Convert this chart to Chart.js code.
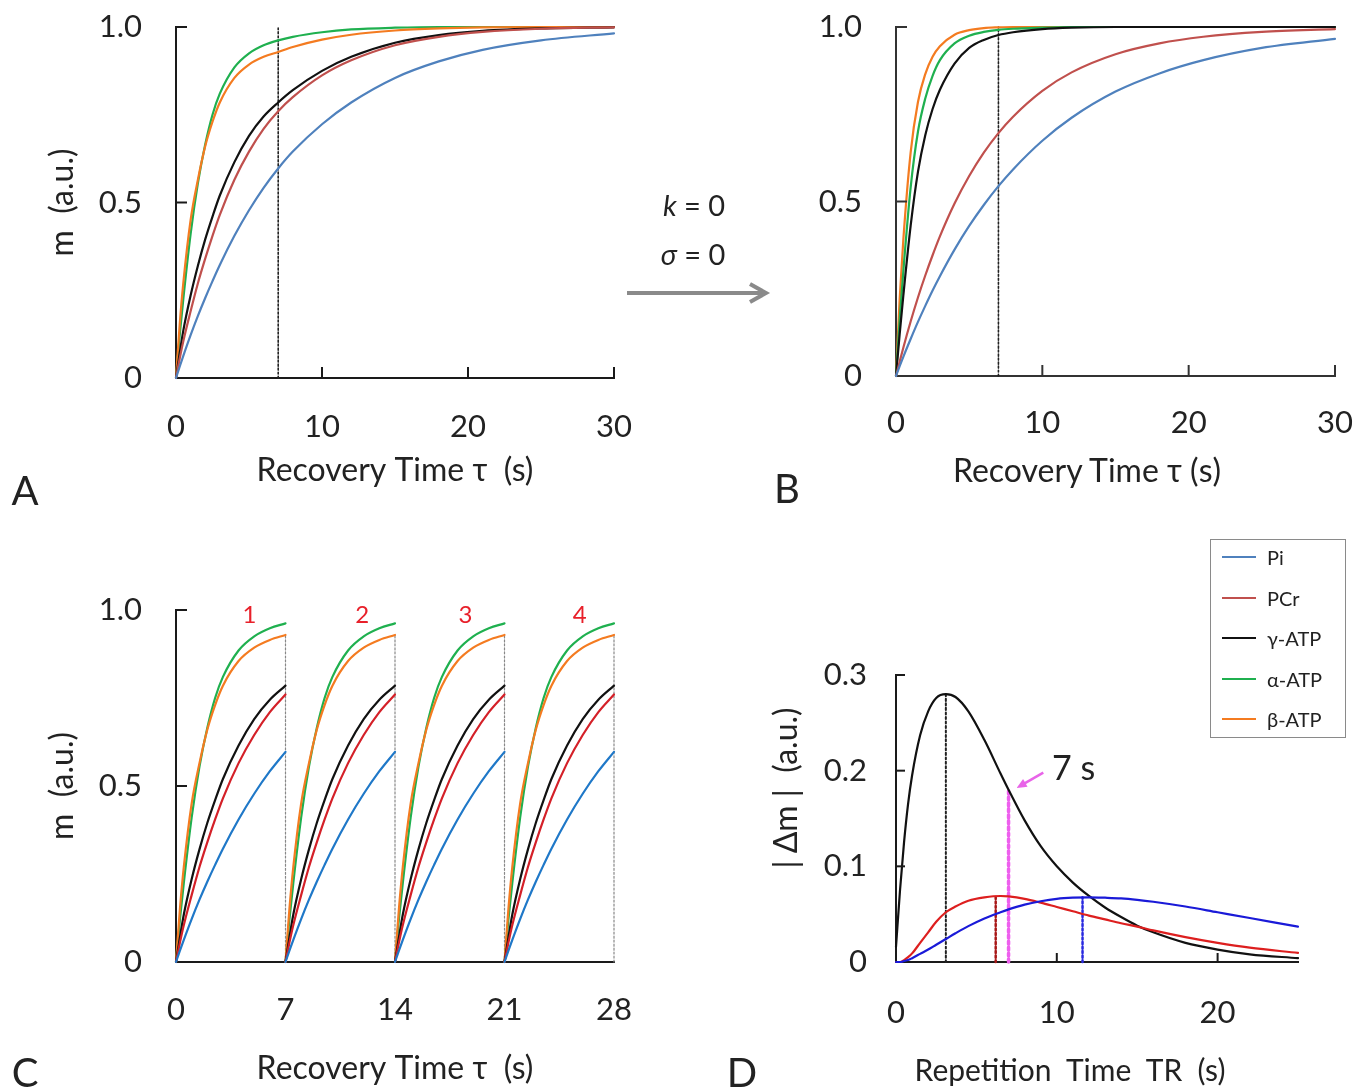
<!DOCTYPE html>
<html><head><meta charset="utf-8">
<script src="https://cdn.jsdelivr.net/npm/chart.js@4.4.1/dist/chart.umd.min.js"></script>
<style>
html,body{margin:0;padding:0;background:#fff;}
#page{position:relative;width:1368px;height:1092px;overflow:hidden;font-family:Lato,"Open Sans",sans-serif;color:#222;}
canvas{position:absolute;}
.t{position:absolute;white-space:pre;transform:translate(-50%,-50%);line-height:1;z-index:5;}
#legend{position:absolute;left:1210px;top:539px;width:136px;height:199px;border:1.5px solid #8a8a8a;box-sizing:border-box;background:#fff;z-index:5;}
.lr{position:absolute;left:0;height:26px;width:130px;}
.lr span.l{position:absolute;left:11px;top:12px;width:34px;height:0;border-top:2.4px solid;}
.lr span.n{position:absolute;left:56px;top:0;font-size:20px;line-height:26px;color:#222;}
</style></head><body><div id="page">
<canvas id="cA" width="650" height="500" style="left:0;top:0"></canvas>
<canvas id="cB" width="648" height="500" style="left:720px;top:0"></canvas>
<canvas id="cC" width="650" height="552" style="left:0;top:540px"></canvas>
<canvas id="cD" width="648" height="552" style="left:720px;top:540px"></canvas>

<svg style="position:absolute;left:0;top:0;z-index:4" width="1368" height="1092">
  <line x1="627" y1="293" x2="764" y2="293" stroke="#8a8a8a" stroke-width="4"/>
  <polyline points="750,284 766,293 750,302" fill="none" stroke="#8a8a8a" stroke-width="4" stroke-linejoin="miter"/>
</svg>

<div class="t" style="left:25px;top:490px;font-size:40px;">A</div>
<div class="t" style="left:787px;top:488px;font-size:40px;">B</div>
<div class="t" style="left:25px;top:1072px;font-size:40px;">C</div>
<div class="t" style="left:742px;top:1072px;font-size:40px;">D</div>
<div class="t" style="left:694px;top:204px;font-size:29px;"><i>k</i> = 0</div>
<div class="t" style="left:693px;top:253px;font-size:29px;"><i>σ</i> = 0</div>
<div class="t" style="left:1087px;top:470px;font-size:32px;">Recovery Time τ (s)</div>
<div class="t" style="left:1070px;top:1069px;font-size:30px;">Repetition  Time  TR  (s)</div>
<div class="t" style="left:785px;top:788px;font-size:32px;transform:translate(-50%,-50%) rotate(-90deg);">| Δm |  (a.u.)</div>

<div id="legend"></div>
</div>
<script>
// ================= DATA =================
// Panel A: recovery curves with exchange (k, sigma != 0)
const tA = [0,0.25,0.5,1,1.5,2,2.5,3,4,5,6,7,8,10,12,15,18,21,25,30];
const A_Pi   = [0,0.032,0.063,0.122,0.177,0.228,0.276,0.322,0.405,0.478,0.542,0.597,0.645,0.723,0.785,0.855,0.902,0.935,0.962,0.982];
const A_PCr  = [0,0.055,0.105,0.19,0.27,0.34,0.405,0.465,0.565,0.645,0.71,0.76,0.80,0.862,0.905,0.948,0.972,0.986,0.995,0.999];
const A_gATP = [0,0.07,0.135,0.235,0.32,0.395,0.46,0.52,0.615,0.69,0.745,0.785,0.82,0.875,0.915,0.955,0.977,0.989,0.996,0.999];
const A_aATP = [0,0.12,0.225,0.41,0.555,0.665,0.75,0.81,0.885,0.925,0.948,0.962,0.972,0.985,0.993,0.998,1,1,1,1];
const A_bATP = [0,0.15,0.27,0.45,0.565,0.66,0.73,0.785,0.855,0.893,0.915,0.929,0.943,0.964,0.978,0.99,0.996,0.999,1,1];

// Panel B: recovery curves with k = 0, sigma = 0
const tB = [0,0.25,0.5,1,1.5,2,2.5,3,4,5,6,7,8,10,12,15,18,21,25,30];
const B_Pi   = [0,0.028,0.055,0.106,0.155,0.201,0.245,0.286,0.362,0.43,0.49,0.544,0.592,0.674,0.74,0.815,0.867,0.905,0.94,0.966];
const B_PCr  = [0,0.041,0.081,0.156,0.225,0.288,0.346,0.4,0.494,0.573,0.64,0.696,0.743,0.817,0.87,0.922,0.953,0.972,0.986,0.994];
const B_gATP = [0,0.12,0.23,0.43,0.585,0.69,0.765,0.82,0.895,0.94,0.963,0.977,0.985,0.994,0.998,1,1,1,1,1];
const B_aATP = [0,0.16,0.3,0.54,0.7,0.795,0.86,0.905,0.953,0.975,0.986,0.992,0.995,0.998,1,1,1,1,1,1];
const B_bATP = [0,0.22,0.39,0.64,0.785,0.865,0.915,0.945,0.978,0.991,0.997,0.999,1,1,1,1,1,1,1,1];

// Panel C: one 7 s recovery cycle (repeated 4 times in the panel)
const tC = [0,0.25,0.5,1,1.5,2,2.5,3,4,5,6,7];
const C_Pi   = [0,0.032,0.063,0.122,0.177,0.228,0.276,0.322,0.405,0.478,0.542,0.597];
const C_PCr  = [0,0.055,0.105,0.19,0.27,0.34,0.405,0.465,0.565,0.645,0.71,0.76];
const C_gATP = [0,0.07,0.135,0.235,0.32,0.395,0.46,0.52,0.615,0.69,0.745,0.785];
const C_aATP = [0,0.12,0.225,0.41,0.555,0.665,0.75,0.81,0.885,0.925,0.948,0.962];
const C_bATP = [0,0.15,0.27,0.45,0.565,0.66,0.73,0.785,0.855,0.893,0.915,0.929];
const C_cycleLen = 7;
const C_cycles = ['1','2','3','4'];
const C_cycleLabelX = [4.7,11.9,18.5,25.8];
const C_dotTop = 0.93;

// Panel D: |delta m| vs repetition time TR
const tD = [0,0.25,0.5,0.75,1,1.5,2,2.5,3.1,3.7,4.5,5.5,6.5,7,8,9,10,11,12,13,14,15,16,18,20,22,25];
const D_Pi   = [0,0,0.001,0.002,0.004,0.0085,0.013,0.018,0.024,0.03,0.0375,0.0455,0.052,0.055,0.06,0.0635,0.066,0.0672,0.0676,0.0672,0.0665,0.065,0.063,0.058,0.052,0.046,0.037];
const D_PCr  = [0,0,0.002,0.005,0.009,0.02,0.031,0.042,0.052,0.058,0.064,0.0675,0.069,0.0685,0.066,0.062,0.0575,0.053,0.0485,0.0445,0.0405,0.037,0.033,0.026,0.02,0.015,0.0095];
const D_gATP = [0.016,0.075,0.125,0.165,0.195,0.237,0.262,0.276,0.28,0.277,0.262,0.232,0.197,0.18,0.148,0.121,0.1,0.083,0.069,0.057,0.047,0.038,0.031,0.02,0.013,0.008,0.004];
const D_markX = [3.1,6.2,7,11.6];
const D_markY = [0.28,0.069,0.18,0.0676];

// ticks
const AB_xTicks = [0,10,20,30], AB_xLabels = ['0','10','20','30'];
const ABC_yTicks = [0,0.5,1], ABC_yLabels = ['0','0.5','1.0'];
const C_xTicks = [0,7,14,21,28], C_xLabels = ['0','7','14','21','28'];
const D_xTicks = [0,10,20], D_xLabels = ['0','10','20'];
const D_yTicks = [0,0.1,0.2,0.3], D_yLabels = ['0','0.1','0.2','0.3'];

const seriesNames = ['Pi','PCr','γ-ATP','α-ATP','β-ATP'];
const colAB = ['#4f81bd','#c0504d','#111111','#1fb04f','#f47b20'];
const colC  = ['#1f78c8','#d42028','#111111','#1fb04f','#f47b20'];
const colD  = ['#1a1ad8','#dd1f1f','#111111'];

// ================= CHART HELPERS =================
const FONT = 'Lato, "Open Sans", sans-serif';
Chart.defaults.font.family = FONT;
Chart.defaults.color = '#222';

const inwardTicks = {
  id:'inwardTicks',
  afterDraw(chart, args, o){
    const {ctx, chartArea:a, scales} = chart;
    ctx.save(); ctx.strokeStyle=o.color; ctx.lineWidth=o.width;
    (o.x||[]).forEach(v=>{const p=scales.x.getPixelForValue(v);ctx.beginPath();ctx.moveTo(p,a.bottom);ctx.lineTo(p,a.bottom-o.len);ctx.stroke();});
    (o.y||[]).forEach(v=>{const p=scales.y.getPixelForValue(v);ctx.beginPath();ctx.moveTo(a.left,p);ctx.lineTo(a.left+o.len,p);ctx.stroke();});
    ctx.restore();
  }
};
const notes = {
  id:'notes',
  afterDatasetsDraw(chart, args, o){
    const {ctx, scales:{x,y}} = chart;
    ctx.save();
    (o.arrows||[]).forEach(a=>{
      const x1=x.getPixelForValue(a.from[0]), y1=y.getPixelForValue(a.from[1]);
      const x2=x.getPixelForValue(a.to[0]), y2=y.getPixelForValue(a.to[1]);
      const ang=Math.atan2(y2-y1,x2-x1), h=a.head;
      ctx.strokeStyle=a.color; ctx.fillStyle=a.color; ctx.lineWidth=a.width;
      ctx.beginPath(); ctx.moveTo(x1,y1); ctx.lineTo(x2-Math.cos(ang)*h*0.7,y2-Math.sin(ang)*h*0.7); ctx.stroke();
      ctx.beginPath(); ctx.moveTo(x2,y2);
      ctx.lineTo(x2-h*Math.cos(ang-0.42),y2-h*Math.sin(ang-0.42));
      ctx.lineTo(x2-h*Math.cos(ang+0.42),y2-h*Math.sin(ang+0.42));
      ctx.closePath(); ctx.fill();
    });
    (o.texts||[]).forEach(t=>{
      ctx.font = `${t.size}px ${FONT}`; ctx.fillStyle=t.color; ctx.textAlign=t.align||'center'; ctx.textBaseline='middle';
      ctx.fillText(t.text, x.getPixelForValue(t.at[0]), y.getPixelForValue(t.at[1]));
    });
    ctx.restore();
  }
};

function curve(xs, ys, color, label){
  return {label, data: xs.map((v,i)=>({x:v,y:ys[i]})), borderColor:color, borderWidth:2.2, clip:false, order:1};
}
function vline(xv, ytop, color, width, dash){
  return {data:[{x:xv,y:0},{x:xv,y:ytop}], borderColor:color, borderWidth:width, borderDash:dash, clip:false, order:2};
}
function zeroPad(s){ s.paddingTop=0; s.paddingBottom=0; s.paddingLeft=0; s.paddingRight=0; }

function panel(id, datasets, o){
  return new Chart(document.getElementById(id), {
    type:'line',
    data:{datasets},
    plugins:[inwardTicks, notes],
    options:{
      responsive:false, animation:false, devicePixelRatio:1,
      layout:{autoPadding:false, padding:{left:0, top:o.padTop, right:o.padRight, bottom:0}},
      elements:{point:{radius:0}, line:{cubicInterpolationMode:'monotone', borderCapStyle:'round'}},
      plugins:{legend:{display:false}, tooltip:{enabled:false}, inwardTicks:o.inTicks, notes:o.notes||{}},
      scales:{
        x:{type:'linear', min:o.xMin, max:o.xMax,
           afterBuildTicks:s=>{s.ticks=o.xTicks.map(v=>({value:v}));},
           afterFit:s=>{s.height=o.xH; zeroPad(s);},
           grid:{display:true, drawOnChartArea:false, drawTicks:false},
           border:{display:true, color:o.axisColor, width:2},
           ticks:{padding:o.xPad, font:{size:31}, color:'#222', maxRotation:0, autoSkip:false,
                  callback:(v,i)=>o.xLabels[i]},
           title: o.xTitle ? {display:true, text:o.xTitle, font:{size:32}, color:'#222', padding:{top:0,bottom:o.xTitlePad}} : {display:false}
        },
        y:{type:'linear', min:o.yMin, max:o.yMax,
           afterBuildTicks:s=>{s.ticks=o.yTicks.map(v=>({value:v}));},
           afterFit:s=>{s.width=o.yW; zeroPad(s);},
           grid:{display:true, drawOnChartArea:false, drawTicks:false},
           border:{display:true, color:o.axisColor, width:2},
           ticks:{padding:o.yPad, font:{size:31}, color:'#222', autoSkip:false,
                  callback:(v,i)=>o.yLabels[i]},
           title: o.yTitle ? {display:true, text:o.yTitle, font:{size:32}, color:'#222', padding:{top:o.yTitlePad,bottom:0}} : {display:false}
        }
      }
    }
  });
}

// ================= PANEL A =================
panel('cA', [
  curve(tA, A_Pi, colAB[0], seriesNames[0]),
  curve(tA, A_PCr, colAB[1], seriesNames[1]),
  curve(tA, A_gATP, colAB[2], seriesNames[2]),
  curve(tA, A_bATP, colAB[4], seriesNames[4]),
  curve(tA, A_aATP, colAB[3], seriesNames[3]),
  vline(7, 1, '#222', 1.6, [2,2])
], {padTop:27, padRight:36, yW:176, xH:122, xMin:0, xMax:30, yMin:0, yMax:1,
    xTicks:AB_xTicks, xLabels:AB_xLabels, yTicks:ABC_yTicks, yLabels:ABC_yLabels,
    xPad:30, yPad:34, axisColor:'#1a1a1a',
    xTitle:'Recovery Time τ  (s)', xTitlePad:10, yTitle:'m  (a.u.)', yTitlePad:43,
    inTicks:{x:[10,20,30], y:[0.5,1], len:11, width:2, color:'#1a1a1a'}});

// ================= PANEL B =================
panel('cB', [
  curve(tB, B_Pi, colAB[0], seriesNames[0]),
  curve(tB, B_PCr, colAB[1], seriesNames[1]),
  curve(tB, B_gATP, colAB[2], seriesNames[2]),
  curve(tB, B_aATP, colAB[3], seriesNames[3]),
  curve(tB, B_bATP, colAB[4], seriesNames[4]),
  vline(7, 1, '#222', 1.6, [2,2])
], {padTop:27, padRight:33, yW:176, xH:124, xMin:0, xMax:30, yMin:0, yMax:1,
    xTicks:AB_xTicks, xLabels:AB_xLabels, yTicks:ABC_yTicks, yLabels:ABC_yLabels,
    xPad:28, yPad:34, axisColor:'#333',
    inTicks:{x:[10,20,30], y:[0.5,1], len:11, width:2, color:'#333'}});

// ================= PANEL C =================
function cycles(vals){
  const out=[];
  C_cycles.forEach((c,k)=>{
    tC.forEach((t,i)=>out.push({x:t+k*C_cycleLen, y:vals[i]}));
    out.push({x:(k+1)*C_cycleLen, y:null});
  });
  return out;
}
function cycleCurve(vals,color,label){ return {label, data:cycles(vals), borderColor:color, borderWidth:2.2, clip:false, spanGaps:false, order:1}; }
const C_sets = [
  cycleCurve(C_Pi, colC[0], seriesNames[0]),
  cycleCurve(C_PCr, colC[1], seriesNames[1]),
  cycleCurve(C_gATP, colC[2], seriesNames[2]),
  cycleCurve(C_bATP, colC[4], seriesNames[4]),
  cycleCurve(C_aATP, colC[3], seriesNames[3])
];
C_cycles.forEach((c,k)=>C_sets.push(vline((k+1)*C_cycleLen, C_dotTop, '#888', 1.2, [2,2])));
panel('cC', C_sets,
  {padTop:70, padRight:36, yW:176, xH:130, xMin:0, xMax:28, yMin:0, yMax:1,
   xTicks:C_xTicks, xLabels:C_xLabels, yTicks:ABC_yTicks, yLabels:ABC_yLabels,
   xPad:29, yPad:34, axisColor:'#1a1a1a',
   xTitle:'Recovery Time τ  (s)', xTitlePad:4, yTitle:'m  (a.u.)', yTitlePad:43,
   inTicks:{y:[0.5,1], len:11, width:2, color:'#1a1a1a'},
   notes:{texts:C_cycles.map((c,k)=>({text:c, at:[C_cycleLabelX[k],0.985], size:24, color:'#e8202a'}))}});

// ================= PANEL D =================
panel('cD', [
  vline(D_markX[0], D_markY[0], '#222', 2, [2,2.5]),
  vline(D_markX[1], D_markY[1], '#a81818', 2.5, [2,2.5]),
  vline(D_markX[2], D_markY[2], '#ee5fee', 3.5, [3,3]),
  vline(D_markX[3], D_markY[3], '#2a2ae0', 2.5, [2,2.5]),
  curve(tD, D_Pi, colD[0], seriesNames[0]),
  curve(tD, D_PCr, colD[1], seriesNames[1]),
  curve(tD, D_gATP, colD[2], seriesNames[2])
], {padTop:135, padRight:70, yW:176, xH:130, xMin:0, xMax:25, yMin:0, yMax:0.3,
    xTicks:D_xTicks, xLabels:D_xLabels, yTicks:D_yTicks, yLabels:D_yLabels,
    xPad:32, yPad:29, axisColor:'#1a1a1a',
    inTicks:{x:[10,20], y:[0.1,0.2,0.3], len:9, width:2, color:'#1a1a1a'},
    notes:{arrows:[{from:[9.16,0.198], to:[7.5,0.182], color:'#e864e8', width:2.5, head:11}],
           texts:[{text:'7 s', at:[9.7,0.2017], size:34, color:'#222', align:'left'}]}});

// ================= LEGEND =================
const legend = document.getElementById('legend');
seriesNames.forEach((n,i)=>{
  const r=document.createElement('div'); r.className='lr'; r.style.top=(4+i*40.5)+'px';
  r.innerHTML=`<span class="l" style="border-color:${colAB[i]}"></span><span class="n">${n}</span>`;
  legend.appendChild(r);
});
</script>
</body></html>
